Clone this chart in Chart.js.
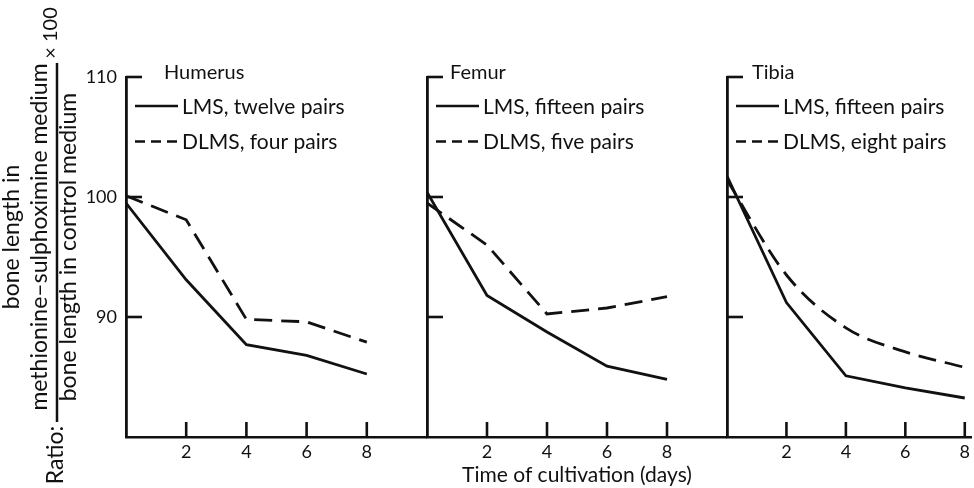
<!DOCTYPE html>
<html>
<head>
<meta charset="utf-8">
<script src="https://cdn.jsdelivr.net/npm/chart.js@4/dist/chart.umd.min.js"></script>
<style>
  html, body { margin: 0; padding: 0; background: #fff; }
  #wrap { position: relative; width: 974px; height: 488px; overflow: hidden; }
  canvas { position: absolute; top: 0; }
</style>
</head>
<body>
<div id="wrap">
  <canvas id="humerus" width="427" height="488" style="left:0;width:427px;height:488px"></canvas>
  <canvas id="femur" width="310" height="488" style="left:417px;width:310px;height:488px"></canvas>
  <canvas id="tibia" width="257" height="488" style="left:717px;width:257px;height:488px"></canvas>
</div>
<script>
// days of cultivation
const days = [0, 2, 4, 6, 8];

// ratio x 100
const humerusLMS = [99.5, 93.1, 87.7, 86.8, 85.25];
const humerusDLMS = [100.1, 98.1, 89.8, 89.6, 87.9];
const femurLMS = [100.4, 91.8, 88.75, 85.9, 84.8];
const femurDLMS = [99.5, 96.0, 90.25, 90.75, 91.7];
const tibiaLMS = [101.75, 91.2, 85.1, 84.1, 83.25];
const tibiaDLMS = [101.4, 93.5, 89.1, 87.1, 85.8];

const xTicks = [2, 4, 6, 8];
const yTicks = [90, 100, 110];

const humerusLabels = ['LMS, twelve pairs', 'DLMS, four pairs'];
const femurLabels = ['LMS, fifteen pairs', 'DLMS, five pairs'];
const tibiaLabels = ['LMS, fifteen pairs', 'DLMS, eight pairs'];

const xTitle = 'Time of cultivation (days)';
const yTitleNumerator = ['bone length in', 'methionine\u2013sulphoximine medium'];
const yTitleDenominator = 'bone length in control medium';
const yTitlePrefix = 'Ratio:';
const yTitleSuffix = '\u00d7 100';

const INK = '#111';
Chart.defaults.font.family = 'Lato, "Open Sans", sans-serif';
Chart.defaults.color = INK;

const toPoints = vals => days.map((d, i) => ({ x: d, y: vals[i] }));

// tick marks point into the plot in the original
const inwardTicks = {
  id: 'inwardTicks',
  afterDraw(chart) {
    const { ctx, chartArea } = chart;
    const xs = chart.scales.x;
    const ys = chart.scales.y;
    ctx.save();
    ctx.lineWidth = 2.6;
    ctx.strokeStyle = INK;
    for (let i = 0; i < xs.ticks.length; i++) {
      const px = xs.getPixelForTick(i);
      ctx.beginPath();
      ctx.moveTo(px, chartArea.bottom);
      ctx.lineTo(px, chartArea.bottom - 15);
      ctx.stroke();
    }
    for (let i = 0; i < ys.ticks.length; i++) {
      const py = ys.getPixelForTick(i);
      ctx.beginPath();
      ctx.moveTo(chartArea.left, py);
      ctx.lineTo(chartArea.left + 16, py);
      ctx.stroke();
    }
    ctx.restore();
  }
};

// panel name + the two legend entries, drawn in the top left corner of each panel
const panelLegend = {
  id: 'panelLegend',
  afterDraw(chart, args, opts) {
    const { ctx, chartArea: { left, top } } = chart;
    ctx.save();
    ctx.fillStyle = INK;
    ctx.strokeStyle = INK;
    ctx.textBaseline = 'alphabetic';
    ctx.font = '20px Lato';
    ctx.fillText(opts.title, left + opts.titleX, top + 2);
    ctx.font = '21px Lato';
    chart.data.datasets.forEach((ds, i) => {
      const y = top + 29 + i * 35.5;
      ctx.lineWidth = 2.6;
      ctx.setLineDash(ds.borderDash && ds.borderDash.length ? [10, 6] : []);
      ctx.beginPath();
      ctx.moveTo(left + 9, y);
      ctx.lineTo(left + 52, y);
      ctx.stroke();
      ctx.setLineDash([]);
      ctx.fillText(ds.label, left + 56, y + 7.5);
    });
    ctx.restore();
  }
};

// the fraction written up the left side
const ratioTitle = {
  id: 'ratioTitle',
  afterDraw(chart) {
    const { ctx } = chart;
    const put = (text, x, y) => {
      ctx.save();
      ctx.translate(x, y);
      ctx.rotate(-Math.PI / 2);
      ctx.fillText(text, 0, 0);
      ctx.restore();
    };
    ctx.save();
    ctx.fillStyle = INK;
    ctx.strokeStyle = INK;
    ctx.textAlign = 'center';
    ctx.textBaseline = 'alphabetic';
    ctx.font = '23px Lato';
    put(yTitleNumerator[0], 19, 237);
    put(yTitleNumerator[1], 47, 237);
    put(yTitleDenominator, 76, 247);
    put(yTitlePrefix, 63, 455);
    ctx.font = '20px Lato';
    put(yTitleSuffix, 57, 33);
    ctx.lineWidth = 2.5;
    ctx.beginPath();
    ctx.moveTo(57, 63);
    ctx.lineTo(57, 422);
    ctx.stroke();
    ctx.restore();
  }
};

function panelChart(id, cfg) {
  const ctx = document.getElementById(id).getContext('2d');
  return new Chart(ctx, {
    type: 'line',
    data: {
      datasets: [
        {
          label: cfg.labels[0],
          data: toPoints(cfg.lms),
          borderDash: []
        },
        {
          label: cfg.labels[1],
          data: toPoints(cfg.dlms),
          borderDash: [18, 9],
          cubicInterpolationMode: cfg.smooth ? 'monotone' : 'default'
        }
      ]
    },
    options: {
      responsive: false,
      animation: false,
      events: [],
      layout: { padding: { top: 77, left: 0, right: 0, bottom: 0 } },
      elements: {
        point: { radius: 0 },
        line: { borderColor: INK, borderWidth: 2.8, tension: 0, fill: false }
      },
      plugins: {
        legend: { display: false },
        tooltip: { enabled: false },
        panelLegend: { title: cfg.title, titleX: cfg.titleX }
      },
      scales: {
        x: {
          type: 'linear',
          min: 0,
          max: cfg.xMax,
          afterBuildTicks: s => { s.ticks = xTicks.map(v => ({ value: v })); },
          afterFit: s => { s.height = 51; },
          grid: { display: false, drawTicks: false },
          border: { color: INK, width: 2.6 },
          ticks: { padding: 4, color: INK, font: { size: 18 } },
          title: {
            display: !!cfg.xTitle,
            text: cfg.xTitle || '',
            color: INK,
            font: { size: 21 },
            padding: 0
          }
        },
        y: {
          min: 80,
          max: 110,
          afterBuildTicks: s => { s.ticks = yTicks.map(v => ({ value: v })); },
          afterFit: s => { s.width = cfg.axisLeft; },
          grid: { display: false, drawTicks: false },
          border: { color: INK, width: 2.8 },
          ticks: { display: cfg.yLabels, padding: 9, color: INK, font: { size: 18 } }
        }
      }
    },
    plugins: cfg.extra ? [inwardTicks, panelLegend, cfg.extra] : [inwardTicks, panelLegend]
  });
}

panelChart('humerus', {
  title: 'Humerus', titleX: 38, labels: humerusLabels,
  lms: humerusLMS, dlms: humerusDLMS,
  xMax: 10, axisLeft: 126, yLabels: true, extra: ratioTitle
});

panelChart('femur', {
  title: 'Femur', titleX: 23, labels: femurLabels,
  lms: femurLMS, dlms: femurDLMS,
  xMax: 10, axisLeft: 10, yLabels: false, xTitle: xTitle
});

panelChart('tibia', {
  title: 'Tibia', titleX: 25, labels: tibiaLabels,
  lms: tibiaLMS, dlms: tibiaDLMS,
  xMax: 8.23, axisLeft: 10, yLabels: false, smooth: true
});
</script>
</body>
</html>
